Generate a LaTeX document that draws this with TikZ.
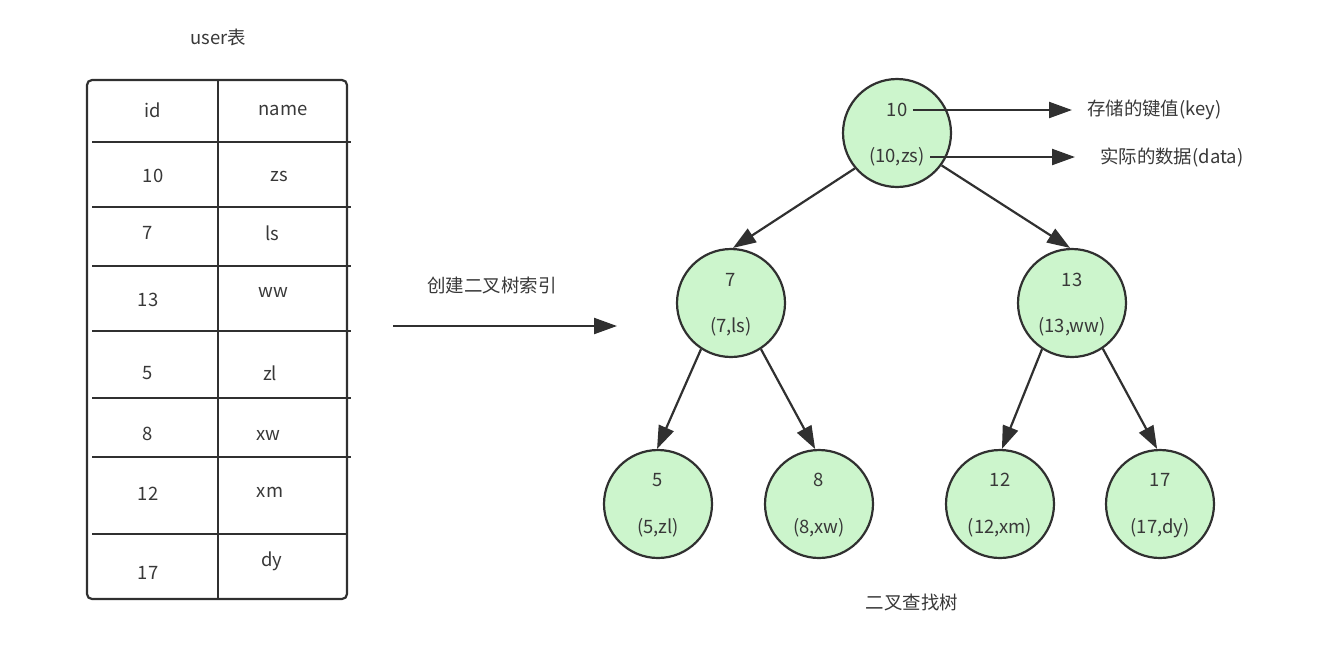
\documentclass[tikz,border=0pt]{standalone}
\usepackage{fontspec}
\setmainfont{Noto Sans CJK SC}
\usetikzlibrary{arrows.meta}
\definecolor{linegray}{HTML}{303030}
\definecolor{textgray}{HTML}{383838}
\definecolor{bstgreen}{HTML}{CCF5CC}
\tikzset{
    txt/.style={font=\fontsize{10.5}{12}\selectfont, text=textgray, inner sep=1pt},
    keytxt/.style={txt, inner sep=3pt},
    bst/.style={circle, draw=linegray, fill=bstgreen, line width=1.25pt, minimum size=2.16cm, inner sep=0pt},
    rowline/.style={line width=1.25pt, linegray},
    link/.style={-{Triangle[length=0.46cm, width=0.32cm]}, line width=1.25pt, linegray},
}
\begin{document}
\begin{tikzpicture}[x=0.02cm, y=-0.02cm]
\useasboundingbox (0,0) rectangle (1324,650);

% ── user table ──
\node[txt] (title) at (218, 37) {user表};
\draw[rowline, rounded corners=0.1cm] (87, 80) rectangle (347, 599);
\draw[rowline] (218, 80) -- (218, 599);
\draw[rowline] (92, 142) -- (351, 142);
\draw[rowline] (92, 207) -- (351, 207);
\draw[rowline] (92, 266) -- (351, 266);
\draw[rowline] (92, 331) -- (351, 331);
\draw[rowline] (92, 398) -- (351, 398);
\draw[rowline] (92, 457) -- (351, 457);
\draw[rowline] (92, 534) -- (347, 534);

\node[txt] (hid) at (153, 110) {id};
\node[txt] (hname) at (283, 110) {name};
\node[txt] (id10) at (153, 176) {10};
\node[txt] (nm10) at (279, 176) {zs};
\node[txt] (id7) at (148, 233) {7};
\node[txt] (nm7) at (272, 233) {ls};
\node[txt] (id13) at (148, 300) {13};
\node[txt] (nm13) at (273, 292) {ww};
\node[txt] (id5) at (148, 373) {5};
\node[txt] (nm5) at (270, 373) {zl};
\node[txt] (id8) at (148, 434) {8};
\node[txt] (nm8) at (268, 435) {xw};
\node[txt] (id12) at (148, 494) {12};
\node[txt] (nm12) at (270, 492) {xm};
\node[txt] (id17) at (148, 573) {17};
\node[txt] (nm17) at (272, 561) {dy};

% ── index arrow ──
\node[txt] (build) at (492, 285) {创建二叉树索引};
\coordinate (from) at (393, 326);
\coordinate (to) at (617, 326);
\draw[link] (from) -- (to);

% ── tree ──
\node[bst] (root) at (897, 133) {};
\node[bst] (n7) at (731, 303) {};
\node[bst] (n13) at (1072, 303) {};
\node[bst] (n5) at (658, 504) {};
\node[bst] (n8) at (819, 504) {};
\node[bst] (n12) at (1000, 504) {};
\node[bst] (n17) at (1160, 504) {};

\node[keytxt] (rootkey) at (897, 110) {10};
\node[keytxt] (rootdata) at (897, 157) {(10,zs)};
\node[txt] at (731, 280) {7};
\node[txt] at (731, 327) {(7,ls)};
\node[txt] at (1072, 280) {13};
\node[txt] at (1072, 327) {(13,ww)};
\node[txt] at (658, 480) {5};
\node[txt] at (658, 528) {(5,zl)};
\node[txt] at (819, 480) {8};
\node[txt] at (819, 528) {(8,xw)};
\node[txt] at (1000, 480) {12};
\node[txt] at (1000, 528) {(12,xm)};
\node[txt] at (1160, 480) {17};
\node[txt] at (1160, 528) {(17,dy)};

\draw[link] (root.220) -- (n7.88);
\draw[link] (root.324) -- (n13.92);
\draw[link] (n7.237) -- (n5.91);
\draw[link] (n7.303) -- (n8.94);
\draw[link] (n13.237) -- (n12.88);
\draw[link] (n13.304) -- (n17.93);

% ── notes ──
\node[txt, anchor=west] (keynote) at (1085, 110) {存储的键值(key)};
\node[txt, anchor=west] (datanote) at (1098, 157) {实际的数据(data)};
\draw[link, shorten >=0.26cm] (rootkey.east) -- (keynote.west);
\draw[link, shorten >=0.46cm] (rootdata.east) -- (datanote.west);

\node[txt] (caption) at (912, 602) {二叉查找树};
\end{tikzpicture}
\end{document}
